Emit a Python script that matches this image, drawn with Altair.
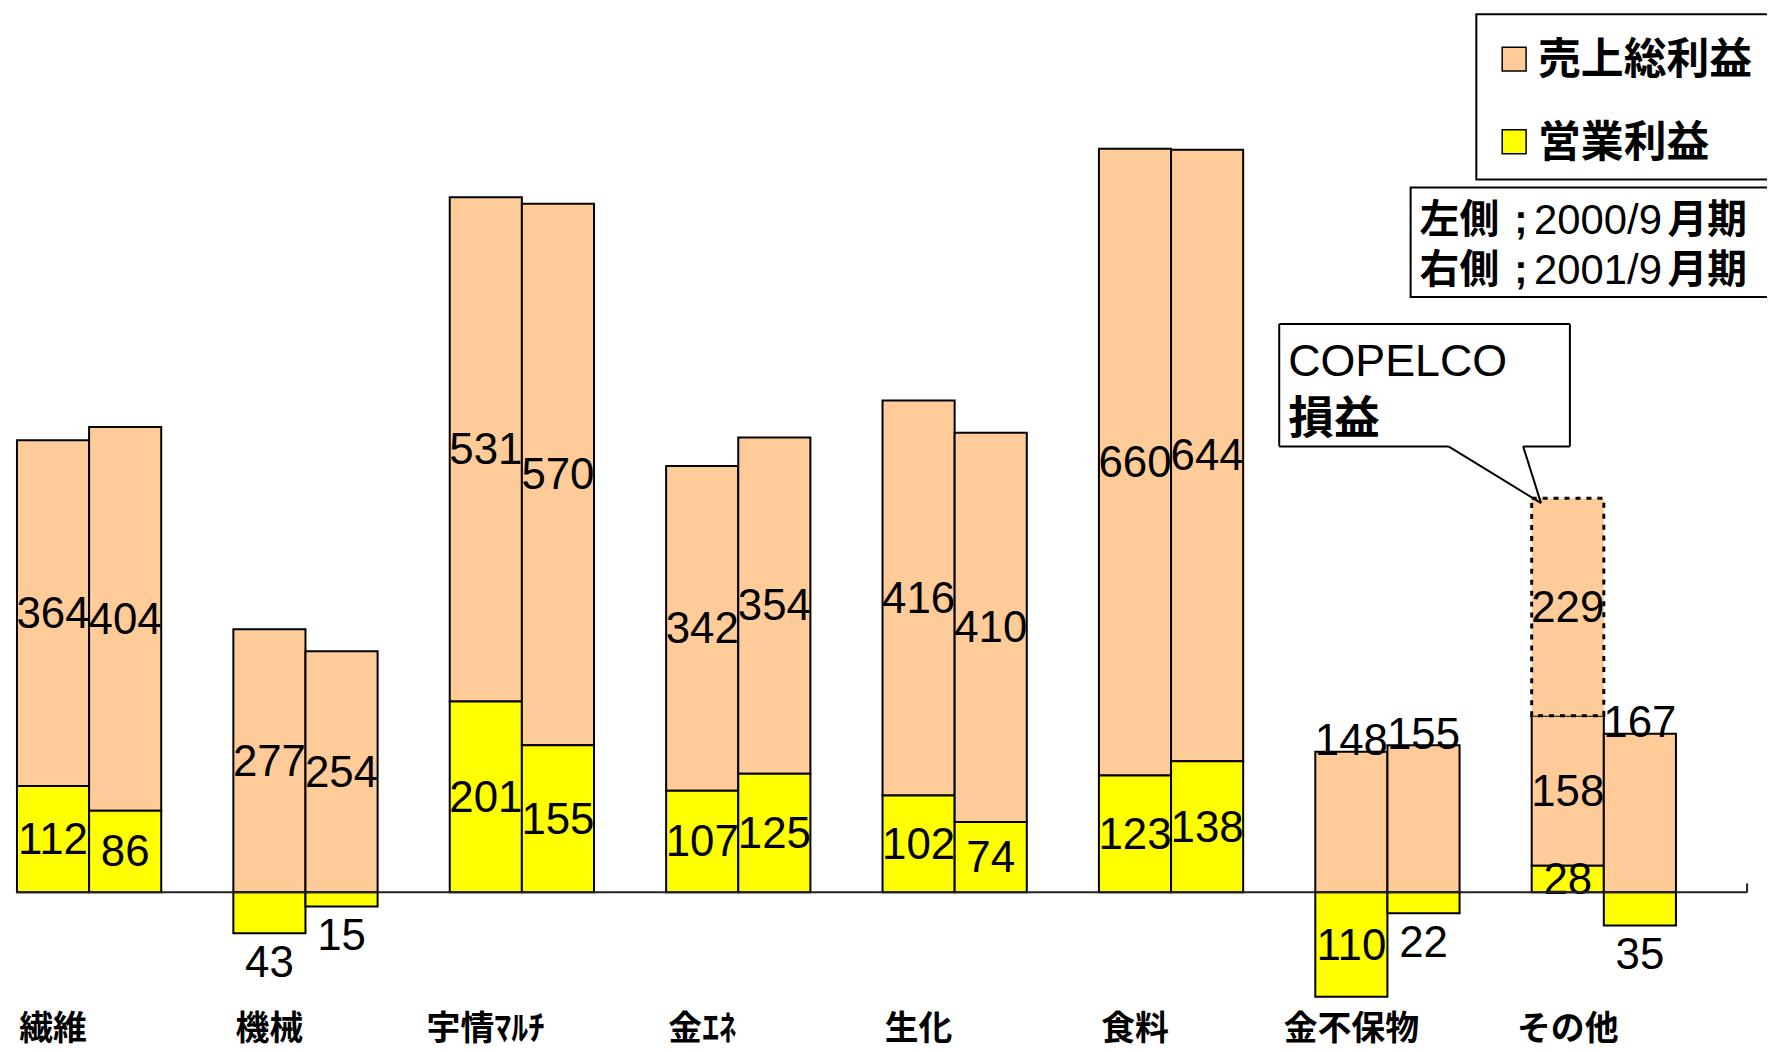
import altair as alt
import pandas as pd

# ---------------- data ----------------
categories = ["繊維", "機械", "宇情ﾏﾙﾁ", "金ｴﾈ", "生化", "食料", "金不保物", "その他"]
periods = ["2000/9", "2001/9"]
gross_2000 = [364, 277, 531, 342, 416, 660, 148, 158]
gross_2001 = [404, 254, 570, 354, 410, 644, 155, 167]
oper_2000 = [112, -43, 201, 107, 102, 123, -110, 28]
oper_2001 = [86, -15, 155, 125, 74, 138, -22, -35]
copelco_category = "その他"
copelco_value = 229
series_names = ["売上総利益", "営業利益"]
series_colors = ["#FFCC99", "#FFFF00"]
period_lines = [("左側", ";", "2000/9", "月期"), ("右側", ";", "2001/9", "月期")]
callout_lines = ["COPELCO", "損益"]

NUM_FONT = "Liberation Sans"
JP_FONT = "Noto Sans CJK JP"

# ---------------- tables ----------------
bar_rows, label_rows = [], []
copelco_base = 0
for p, gl, ol in [(periods[0], gross_2000, oper_2000), (periods[1], gross_2001, oper_2001)]:
    for c, g, o in zip(categories, gl, ol):
        if o >= 0:
            g0, g1 = o, o + g
        else:
            g0, g1 = 0, g
        bar_rows.append(dict(category=c, period=p, series=series_names[0], y0=g0, y1=g1))
        bar_rows.append(dict(category=c, period=p, series=series_names[1],
                             y0=min(0, o), y1=max(0, o)))
        gy = g1 + 12 if (o < 0 and g < 200) else (g0 + g1) / 2
        oy = o / 2 if (o >= 0 or -o > 60) else o - 30
        label_rows.append(dict(category=c, period=p, ly=gy, text=str(g)))
        label_rows.append(dict(category=c, period=p, ly=oy, text=str(abs(o))))
        if p == periods[0] and c == copelco_category:
            copelco_base = g1

bars_df = pd.DataFrame(bar_rows)
labels_df = pd.DataFrame(label_rows)
cop_df = pd.DataFrame([dict(category=copelco_category, period=periods[0],
                            y0=copelco_base, y1=copelco_base + copelco_value,
                            ly=copelco_base + copelco_value / 2, text=str(copelco_value))])
cat_df = pd.DataFrame(dict(category=categories, period=[periods[0]] * len(categories)))

# ---------------- scales ----------------
W, H = 1739, 1044
x_scale = alt.Scale(domain=categories, paddingInner=0, paddingOuter=0)
xo_scale = alt.Scale(domain=periods + ["_"], paddingInner=0, paddingOuter=0)
y_scale = alt.Scale(domain=[-165.6, 928.7], nice=False, zero=False)

X = alt.X("category:N", scale=x_scale, axis=None, sort=None)
XO = alt.XOffset("period:N", scale=xo_scale)

bars = alt.Chart(bars_df).mark_bar(stroke="black", strokeWidth=2).encode(
    x=X, xOffset=XO,
    y=alt.Y("y0:Q", scale=y_scale, axis=None), y2="y1:Q",
    color=alt.Color("series:N", scale=alt.Scale(domain=series_names, range=series_colors),
                    legend=None),
)

copelco = alt.Chart(cop_df).mark_bar(fill=series_colors[0], stroke="black",
                                      strokeWidth=3, strokeDash=[5, 6]).encode(
    x=X, xOffset=XO, y=alt.Y("y0:Q", scale=y_scale, axis=None), y2="y1:Q")

labels = alt.Chart(pd.concat([labels_df, cop_df[["category", "period", "ly", "text"]]])).mark_text(
    font=NUM_FONT, fontSize=44, baseline="middle", align="center", color="black", dy=2).encode(
    x=X, xOffset=XO, y=alt.Y("ly:Q", scale=y_scale, axis=None), text="text:N")

zero_df = pd.DataFrame({"v": [0]})
baseline = alt.Chart(zero_df).mark_rule(color="#222222", strokeWidth=2).encode(
    x=alt.value(0), x2=alt.value(1738), y=alt.Y("v:Q", scale=y_scale, axis=None))
end_tick = alt.Chart(zero_df).mark_rule(color="#222222", strokeWidth=2).encode(
    x=alt.value(1738), y=alt.Y("v:Q", scale=y_scale, axis=None), y2=alt.value(877))

cat_labels = alt.Chart(cat_df).mark_text(
    font=JP_FONT, fontSize=34, fontWeight="bold", baseline="middle", align="center",
    color="black").encode(x=X, xOffset=XO, y=alt.value(1024), text="category:N")


def one():
    return pd.DataFrame({"a": [0]})


def seg(x1, y1, x2, y2, w=2):
    return alt.Chart(one()).mark_rule(color="black", strokeWidth=w).encode(
        x=alt.value(x1), y=alt.value(y1), x2=alt.value(x2), y2=alt.value(y2))


def box(x1, y1, x2, y2, fill="white", w=2):
    return alt.Chart(one()).mark_rect(fill=fill, stroke="black", strokeWidth=w).encode(
        x=alt.value(x1), y=alt.value(y1), x2=alt.value(x2), y2=alt.value(y2))


def txt(t, px, py, size, weight="normal", font=NUM_FONT, align="left"):
    return alt.Chart(pd.DataFrame({"t": [t]})).mark_text(
        font=font, fontSize=size, fontWeight=weight, align=align, baseline="middle",
        color="black", dy=2).encode(x=alt.value(px), y=alt.value(py), text="t:N")


deco = [
    # legend
    box(1466, 4, 1765, 170),
    box(1492, 37, 1516, 61, fill=series_colors[0], w=1.5),
    box(1492, 120, 1516, 144, fill=series_colors[1], w=1.5),
    txt(series_names[0], 1528, 49, 43, "bold", JP_FONT),
    txt(series_names[1], 1528, 132, 43, "bold", JP_FONT),
    # period box
    box(1400, 178, 1765, 288),
]
for line, py in zip(period_lines, [210, 260]):
    deco += [
        txt(line[0], 1409, py, 40, "bold", JP_FONT),
        txt(line[1], 1504, py, 40, "bold", NUM_FONT),
        txt(line[2], 1524, py, 42),
        txt(line[3], 1658, py, 40, "bold", JP_FONT),
    ]
deco += [
    # callout
    seg(1268, 315, 1560, 315),
    seg(1268, 315, 1268, 438),
    seg(1560, 315, 1560, 438),
    seg(1268, 438, 1438, 438),
    seg(1513, 438, 1560, 438),
    seg(1438, 438, 1531, 495),
    seg(1513, 438, 1531, 495),
    txt(callout_lines[0], 1277, 351, 45),
    txt(callout_lines[1], 1277, 410, 46, "bold", JP_FONT),
]

chart = alt.layer(bars, copelco, labels, baseline, end_tick, cat_labels, *deco).properties(
    width=W, height=H,
    padding={"left": 9, "right": 19, "top": 0, "bottom": 0},
    autosize=alt.AutoSizeParams(type="none"),
    background="white",
).configure_view(stroke=None)

chart.save("out.html", embed_options={"renderer": "svg", "actions": False})
